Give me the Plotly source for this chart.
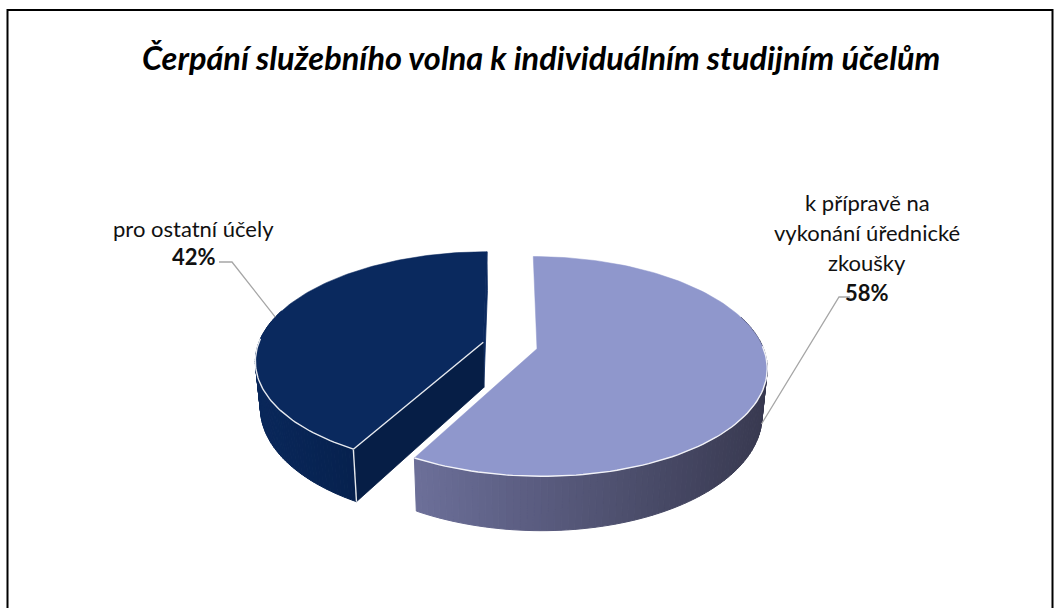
import numpy as np
import plotly.graph_objects as go

# ---------------- data ----------------
categories = ["k přípravě na vykonání úřednické zkoušky", "pro ostatní účely"]
shares = [58, 42]
label_lines = [["k přípravě na", "vykonání úřednické", "zkoušky"], ["pro ostatní účely"]]
pct_labels = ["58%", "42%"]
title_text = "Čerpání služebního volna k individuálním studijním účelům"

# ---------------- style / geometry ----------------
W, H = 1054, 608
CX, CY = 510.0, 345.5          # projected centre of the (unexploded) pie
C, B, A = 225.4, 106.0, 0.16   # horizontal scale, vertical scale, perspective
D, KB = 45.4, 0.98             # thickness, bottom-face shrink
EXPLODE = 0.123
TOP_COLORS = ["#8f97cc", "#0a295e"]
SIDE_LEFT = [(108, 111, 153), (9, 39, 90)]
SIDE_RIGHT = [(56, 57, 80), (6, 33, 78)]
CUT_COLOR = "#061e46"
CUT_COLOR2 = "#0b2a60"
EDGE = "rgba(255,255,255,0.9)"
LEADER = "#a6a6a6"
FONT = "Lato"


def proj(u, v, bottom=False):
    u = np.asarray(u, float)
    v = np.asarray(v, float)
    s = 1.0 / (1.0 + A * v)
    x = CX + C * u * s
    y = CY - B * v * s
    if bottom:
        x = CX + (x - CX) * KB
        y = y + D * s
    return x, y


def rgb(c):
    return "rgb(%d,%d,%d)" % tuple(int(round(t)) for t in c)


fig = go.Figure()


def poly(xs, ys, fill, line=None, width=0.8):
    fig.add_trace(go.Scatter(
        x=list(xs) + [xs[0]], y=list(ys) + [ys[0]], mode="lines", fill="toself",
        fillcolor=fill, line=dict(color=line or fill, width=width),
        hoverinfo="skip", showlegend=False))


def line(xs, ys, color, width):
    fig.add_trace(go.Scatter(x=list(xs), y=list(ys), mode="lines",
                             line=dict(color=color, width=width),
                             hoverinfo="skip", showlegend=False))


total = float(sum(shares))
cum = np.cumsum([0] + shares) / total * 2 * np.pi
slices = []
for i, val in enumerate(shares):
    th0, th1 = cum[i], cum[i + 1]
    mid = 0.5 * (th0 + th1)
    eu, ev = EXPLODE * np.sin(mid), EXPLODE * np.cos(mid)
    slices.append((i, th0, th1, mid, eu, ev))

# draw order: dark (second slice) first, then the light one
for (i, th0, th1, mid, eu, ev) in [slices[1], slices[0]]:
    # ---- outer side (gradient strips) ----
    th = np.linspace(th0, th1, 140)
    u = eu + np.sin(th)
    v = ev + np.cos(th)
    xt, yt = proj(u, v)
    xb, yb = proj(u, v, bottom=True)
    xs_all = xt[np.cos(th) < 0.3]
    lo, hi = (xs_all.min(), xs_all.max()) if len(xs_all) else (0, 1)
    for k in range(len(th) - 1):
        if np.cos(th[k]) > 0.3 and np.cos(th[k + 1]) > 0.3:
            continue
        xm = 0.5 * (xt[k] + xt[k + 1])
        f = (xm - lo) / max(hi - lo, 1.0)
        f = min(max(f, 0.0), 1.0)
        col = [SIDE_LEFT[i][j] + (SIDE_RIGHT[i][j] - SIDE_LEFT[i][j]) * f for j in range(3)]
        poly([xt[k], xt[k + 1], xb[k + 1], xb[k]], [yt[k], yt[k + 1], yb[k + 1], yb[k]], rgb(col), width=1.0)

    ax_t, ay_t = proj(eu, ev)
    ax_b, ay_b = proj(eu, ev, bottom=True)
    if i == 1:
        # radial faces of the dark slice (visible towards the gap)
        for th_e, colr in [(th1, CUT_COLOR2), (th0, CUT_COLOR)]:
            ru, rv = eu + np.sin(th_e), ev + np.cos(th_e)
            rx_t, ry_t = proj(ru, rv)
            rx_b, ry_b = proj(ru, rv, bottom=True)
            poly([float(ax_t), float(rx_t), float(rx_b), float(ax_b)],
                 [float(ay_t), float(ry_t), float(ry_b), float(ay_b)], colr, width=0.8)
        # white vertical edge at the front tip
        ru, rv = eu + np.sin(th0), ev + np.cos(th0)
        rx_t, ry_t = proj(ru, rv)
        rx_b, ry_b = proj(ru, rv, bottom=True)
        line([float(rx_t), float(rx_b)], [float(ry_t), float(ry_b)], EDGE, 1.4)

    # ---- top face ----
    px = np.concatenate([[float(ax_t)], xt])
    py = np.concatenate([[float(ay_t)], yt])
    poly(px, py, TOP_COLORS[i], line=TOP_COLORS[i], width=0.5)
    # white edge along the visible front rim and cut edge
    front = np.cos(th) < 0.05
    line(xt[front], yt[front], EDGE, 1.4)
    if i == 1:
        ru, rv = eu + np.sin(th0), ev + np.cos(th0)
        rx_t, ry_t = proj(ru, rv)
        line([float(ax_t), float(rx_t)], [float(ay_t), float(ry_t)], EDGE, 1.4)

# ---------------- leader lines (end points at slice mid-angles) ----------------
i, th0, th1, mid, eu, ev = slices[1]
ex, ey = proj(eu + np.sin(mid), ev + np.cos(mid))
line([219, 232, float(ex)], [262, 262, float(ey)], LEADER, 1.3)

i, th0, th1, mid, eu, ev = slices[0]
ex, ey = proj(eu + np.sin(mid), ev + np.cos(mid), bottom=True)
line([850, 839, float(ex)], [297, 297, float(ey)], LEADER, 1.3)

# ---------------- labels ----------------
LBL = 22
ann = []
ann.append(dict(x=541, y=57, text="<b><i>%s</i></b>" % title_text, showarrow=False,
                xref="x", yref="y", xanchor="center", yanchor="middle",
                font=dict(family=FONT, size=32.5, color="#000000")))
right_y = [202, 232, 262]
for t, yy in zip(label_lines[0], right_y):
    ann.append(dict(x=867, y=yy, text=t, showarrow=False, xref="x", yref="y",
                    xanchor="center", yanchor="middle",
                    font=dict(family=FONT, size=LBL, color="#111111")))
ann.append(dict(x=867, y=292, text="<b>%s</b>" % pct_labels[0], showarrow=False,
                xref="x", yref="y", xanchor="center", yanchor="middle",
                font=dict(family=FONT, size=LBL, color="#111111")))
ann.append(dict(x=193, y=228, text=label_lines[1][0], showarrow=False, xref="x", yref="y",
                xanchor="center", yanchor="middle",
                font=dict(family=FONT, size=LBL, color="#111111")))
ann.append(dict(x=193.5, y=256, text="<b>%s</b>" % pct_labels[1], showarrow=False,
                xref="x", yref="y", xanchor="center", yanchor="middle",
                font=dict(family=FONT, size=LBL, color="#111111")))

fig.update_layout(
    width=W, height=H, autosize=False,
    margin=dict(l=0, r=0, t=0, b=0),
    paper_bgcolor="white", plot_bgcolor="white",
    showlegend=False,
    xaxis=dict(range=[0, W], visible=False, fixedrange=True),
    yaxis=dict(range=[H, 0], visible=False, fixedrange=True),
    annotations=ann,
    shapes=[dict(type="rect", xref="x", yref="y", x0=7.5, x1=1052.5, y0=10, y1=640,
                 line=dict(color="#000000", width=2), fillcolor="rgba(0,0,0,0)")],
)

fig.write_html("out.html", config={"displayModeBar": False},
               post_script="document.body.style.margin='0';")
